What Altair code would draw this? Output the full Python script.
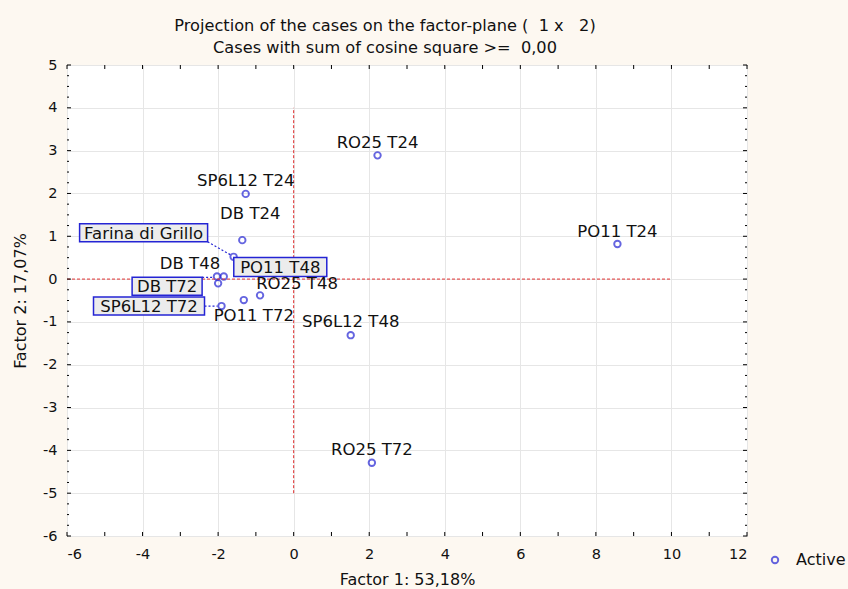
import altair as alt
import pandas as pd

# ---- data ----
labels = ["RO25 T24", "PO11 T24", "SP6L12 T24", "DB T24", "Farina di Grillo",
          "DB T48", "PO11 T48", "DB T72", "SP6L12 T72", "PO11 T72",
          "RO25 T48", "SP6L12 T48", "RO25 T72"]
factor1 = [2.22, 8.57, -1.27, -1.36, -1.59, -2.03, -1.85, -2.00, -1.91, -1.32,
           -0.89, 1.51, 2.07]
factor2 = [2.89, 0.82, 1.99, 0.91, 0.52, 0.06, 0.06, -0.10, -0.63, -0.49,
           -0.38, -1.31, -4.29]
series = ["Active"] * len(labels)

x_tick_labels = list(range(-6, 13, 2))
y_tick_labels = list(range(-6, 6, 1))
x_minor = list(range(-6, 13, 1))
y_minor = [v / 4 for v in range(-24, 21)]

NB = "\u00a0"
title_lines = ["Projection of the cases on the factor-plane (" + NB + NB + "1 x" + NB + NB + NB + "2)",
               "Cases with sum of cosine square >=" + NB + NB + "0,00"]
x_title = "Factor 1: 53,18%"
y_title = "Factor 2: 17,07%"

df = pd.DataFrame({"label": labels, "f1": factor1, "f2": factor2, "series": series})

W, H = 680, 471
FONT = "DejaVu Sans"
BLUE = "#2424d4"
RED = "#e03030"

xs = alt.Scale(domain=[-6, 12], nice=False, zero=False)
ys = alt.Scale(domain=[-6, 5], nice=False, zero=False)

AX = alt.Axis(values=x_tick_labels, title=x_title, labelPadding=11,
              labelExpr="'' + datum.value",
              titleX=W / 2, titleY=43, titleBaseline="middle", titleAlign="center")
AY = alt.Axis(values=y_tick_labels, title=y_title, labelPadding=10,
              labelExpr="'' + datum.value",
              titleX=-47, titleY=H / 2, titleAngle=270,
              titleBaseline="middle", titleAlign="center")


def X(field):
    return alt.X(field, scale=xs, axis=AX)


def Y(field):
    return alt.Y(field, scale=ys, axis=AY)


base = alt.Chart(df)

points = base.mark_point(shape="circle", filled=False, size=42, strokeWidth=1.9).encode(
    x=X("f1:Q"), y=Y("f2:Q"),
    color=alt.Color("series:N", scale=alt.Scale(range=[BLUE]),
                    legend=alt.Legend(orient="none", legendX=700, legendY=487, title=None,
                                      symbolType="circle", symbolSize=42,
                                      symbolStrokeWidth=1.9, labelFont=FONT,
                                      labelFontSize=16, labelColor="#111111",
                                      labelOffset=13, padding=0)),
)

# reference lines (dashed red)
ref_v = alt.Chart(pd.DataFrame({"x": [0], "y": [-5], "y2": [4]})).mark_rule(
    color=RED, strokeDash=[3, 2], strokeWidth=1).encode(
    x=X("x:Q"), y=Y("y:Q"), y2="y2:Q")
ref_h = alt.Chart(pd.DataFrame({"y": [0], "x": [-6], "x2": [10]})).mark_rule(
    color=RED, strokeDash=[3, 2], strokeWidth=1).encode(
    y=Y("y:Q"), x=X("x:Q"), x2="x2:Q")

# plain labels: (dx, dy) of text centre / baseline relative to point
plain = {
    "RO25 T24": (0, -7), "PO11 T24": (0, -7), "SP6L12 T24": (0, -8),
    "DB T24": (8, -21), "DB T48": (-27, -8), "PO11 T72": (10, 21),
    "RO25 T48": (37, -6), "SP6L12 T48": (0, -8), "RO25 T72": (0, -8),
}
text_layers = []
for name, (dx, dy) in plain.items():
    text_layers.append(
        base.transform_filter(alt.datum.label == name).mark_text(
            font=FONT, fontSize=16.5, color="#111111", align="center",
            baseline="alphabetic", dx=dx, dy=dy).encode(x=X("f1:Q"), y=Y("f2:Q"), text="label:N"))

# boxed labels: box offsets (x1, x2, y1, y2) relative to point
boxed = {
    "Farina di Grillo": (-154, -26, -33, -15),
    "PO11 T48": (10, 103, -19, 0),
    "DB T72": (-86, -16, -6, 12),
    "SP6L12 T72": (-128, -17, -9, 9),
}
box_layers = []
for name, (x1, x2, y1, y2) in boxed.items():
    sub = base.transform_filter(alt.datum.label == name)
    box_layers.append(sub.mark_rect(fill="#ececec", stroke=BLUE, strokeWidth=1.5,
                                    xOffset=x1, x2Offset=x2, yOffset=y1, y2Offset=y2)
                      .encode(x=X("f1:Q"), x2="f1:Q", y=Y("f2:Q"), y2="f2:Q"))
    box_layers.append(sub.mark_text(font=FONT, fontSize=16.5, color="#111111",
                                    align="center", baseline="middle",
                                    dx=(x1 + x2) / 2, dy=(y1 + y2) / 2 + 1)
                      .encode(x=X("f1:Q"), y=Y("f2:Q"), text="label:N"))

# dotted leaders from boxes to points
leaders = {
    "Farina di Grillo": (-26, -15, -3, -2),
    "DB T72": (-16, -6, -4, -6),
    "SP6L12 T72": (-17, 0, -4, 0),
}
leader_layers = []
for name, (ax, ay, bx, by) in leaders.items():
    leader_layers.append(
        base.transform_filter(alt.datum.label == name).mark_rule(
            color=BLUE, strokeDash=[2, 2], strokeWidth=1.2,
            xOffset=ax, yOffset=ay, x2Offset=bx, y2Offset=by)
        .encode(x=X("f1:Q"), y=Y("f2:Q"), x2="f1:Q", y2="f2:Q"))

# inward ticks on all four sides
xt = alt.Chart(pd.DataFrame({"t": x_minor}))
yt = alt.Chart(pd.DataFrame({"t": y_minor, "major": [float(v).is_integer() for v in y_minor]}))
tick_layers = [
    xt.mark_rule(color="black").encode(x=X("t:Q"), y=alt.value(H), y2=alt.value(H - 4)),
    xt.mark_rule(color="black").encode(x=X("t:Q"), y=alt.value(0), y2=alt.value(4)),
    yt.transform_filter("datum.major").mark_rule(color="black").encode(
        y=Y("t:Q"), x=alt.value(0), x2=alt.value(4)),
    yt.transform_filter("!datum.major").mark_rule(color="black").encode(
        y=Y("t:Q"), x=alt.value(0), x2=alt.value(2)),
    yt.transform_filter("datum.major").mark_rule(color="black").encode(
        y=Y("t:Q"), x=alt.value(W), x2=alt.value(W - 4)),
    yt.transform_filter("!datum.major").mark_rule(color="black").encode(
        y=Y("t:Q"), x=alt.value(W), x2=alt.value(W - 2)),
]

chart = alt.layer(
    points, ref_v, ref_h, *leader_layers, *box_layers, *text_layers, *tick_layers
).properties(
    width=W, height=H,
    title=alt.TitleParams(text=title_lines, font=FONT, fontSize=16.2, fontWeight="normal",
                          color="#111111", anchor="middle", frame="group", dx=-22,
                          offset=1, lineHeight=22),
    autosize=alt.AutoSizeParams(type="none"),
    padding={"left": 67, "top": 65, "right": 101, "bottom": 53},
    background="#fdf8f1",
).configure_view(
    stroke="black", strokeWidth=1, fill="white"
).configure_axis(
    domain=False, ticks=False, grid=True, gridColor="#e6e6e6", gridWidth=1,
    labelFont=FONT, labelFontSize=14.5, labelColor="#111111",
    titleFont=FONT, titleFontSize=16, titleFontWeight="normal", titleColor="#111111",
)

chart.save("out.html", embed_options={"renderer": "svg", "actions": False})
